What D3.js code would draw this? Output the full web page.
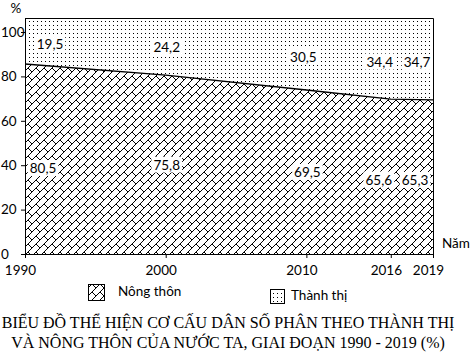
<!DOCTYPE html>
<html>
<head>
<meta charset="utf-8">
<script src="https://cdn.jsdelivr.net/npm/d3@7"></script>
<style>
  html, body { margin: 0; padding: 0; background: #fff; }
  svg { display: block; }
</style>
</head>
<body>
<svg id="chart" width="471" height="356"></svg>
<script>
// ---- data ----
const years = [1990, 2000, 2010, 2016, 2019];
const rural = [80.5, 75.8, 69.5, 65.6, 65.3];   // Nông thôn
const urban = [19.5, 24.2, 30.5, 34.4, 34.7];   // Thành thị
const yTicks = [0, 20, 40, 60, 80, 100];
const seriesNames = ["Nông thôn", "Thành thị"];
const titleLines = [
  "BIỂU ĐỒ THỂ HIỆN CƠ CẤU DÂN SỐ PHÂN THEO THÀNH THỊ",
  "VÀ NÔNG THÔN CỦA NƯỚC TA, GIAI ĐOẠN 1990 - 2019 (%)"
];

(function () {
const fontSans = "Lato, 'Open Sans', sans-serif";
const fontSerif = "'Liberation Serif', 'Times New Roman', serif";

const svg = d3.select("#chart");
const defs = svg.append("defs");

// diagonal brick pattern (8x8)
const brickBits = [
  "00000001",
  "00000010",
  "00000100",
  "00001000",
  "00011000",
  "00100100",
  "01000010",
  "10000001"
];
const brick = defs.append("pattern").attr("id", "brick")
  .attr("patternUnits", "userSpaceOnUse").attr("width", 8).attr("height", 8);
brick.append("rect").attr("width", 8).attr("height", 8).attr("fill", "#fff");
brickBits.forEach((row, r) => {
  row.split("").forEach((b, c) => {
    if (b === "1") brick.append("rect").attr("x", c).attr("y", r)
      .attr("width", 1).attr("height", 1).attr("fill", "#000");
  });
});

// dotted pattern
const dots = defs.append("pattern").attr("id", "dots")
  .attr("patternUnits", "userSpaceOnUse").attr("width", 4).attr("height", 4);
dots.append("rect").attr("width", 4).attr("height", 4).attr("fill", "#fff");
dots.append("rect").attr("x", 1).attr("y", 1).attr("width", 1).attr("height", 1).attr("fill", "#000");

// ---- scales ----
const pLeft = 25, pRight = 433, pTop = 18, pBottom = 254;
const x = d3.scaleLinear().domain([1990, 2019]).range([pLeft, pRight]);
const yData = d3.scaleLinear().domain([0, 100]).range([pBottom, pTop]);
const yAxisScale = d3.scaleLinear().domain([0, 100]).range([pBottom, 32]);

const table = years.map((yr, i) => ({ year: yr, rural: rural[i], urban: urban[i] }));
const stacked = d3.stack().keys(["rural", "urban"])(table);

const area = d3.area()
  .x(d => x(d.data.year))
  .y0(d => yData(d[0]))
  .y1(d => yData(d[1]));

svg.append("path").datum(stacked[0]).attr("d", area).attr("fill", "url(#brick)");
svg.append("path").datum(stacked[1]).attr("d", area).attr("fill", "url(#dots)");

// boundary line
svg.append("path").datum(stacked[0])
  .attr("d", d3.line().x(d => x(d.data.year)).y(d => yData(d[1])))
  .attr("fill", "none").attr("stroke", "#000").attr("stroke-width", 1.3);

// frame (top & right)
svg.append("path")
  .attr("d", `M${pLeft},${pTop + 0.5}H${pRight + 0.5}V${pBottom}`)
  .attr("fill", "none").attr("stroke", "#000").attr("stroke-width", 1);

// ---- axes ----
const yAxis = svg.append("g").attr("transform", `translate(${pLeft},0)`)
  .call(d3.axisLeft(yAxisScale).tickValues(yTicks).tickSize(4).tickSizeOuter(0));
yAxis.select(".domain").remove();
yAxis.append("line").attr("x1", 0.5).attr("x2", 0.5).attr("y1", pTop).attr("y2", pBottom)
  .attr("stroke", "#000");
yAxis.selectAll(".tick text")
  .attr("text-anchor", "start").attr("x", -24)
  .attr("font-family", fontSans).attr("font-size", 13.5).attr("fill", "#000");

const xAxis = svg.append("g").attr("transform", `translate(0,${pBottom})`)
  .call(d3.axisBottom(x).tickValues(years).tickFormat(d3.format("d")).tickSize(4).tickSizeOuter(0).tickPadding(7));
xAxis.select(".domain").attr("stroke", "#000");
xAxis.selectAll(".tick text")
  .attr("dx", -5)
  .attr("font-family", fontSans).attr("font-size", 13.5).attr("fill", "#000");

svg.append("text").attr("x", 16).attr("y", 13).attr("text-anchor", "middle")
  .attr("font-family", fontSans).attr("font-size", 13.5).text("%");
svg.append("text").attr("x", 442).attr("y", 248)
  .attr("font-family", fontSans).attr("font-size", 13.5).text("Năm");

// ---- data labels ----
const urbanDx = [25, 1, -3, -11, -16];
const urbanDy = [3, 0, 3, 3, 3];
const ruralDx = [18, 1, 1, -12, -18];
const ruralDy = [9, 0, 0, 3, 3];
const fmt = v => d3.format(".1f")(v).replace(".", ",");

function addLabel(cx, cy, txt) {
  const g = svg.append("g");
  const t = g.append("text").attr("x", cx).attr("y", cy)
    .attr("text-anchor", "middle").attr("dominant-baseline", "central")
    .attr("font-family", fontSans).attr("font-size", 13.5).attr("fill", "#000")
    .text(txt);
  const bb = t.node().getBBox();
  g.insert("rect", "text").attr("x", bb.x - 2).attr("y", bb.y)
    .attr("width", bb.width + 4).attr("height", bb.height).attr("fill", "#fff");
}
stacked[1].forEach((d, i) => {
  addLabel(x(d.data.year) + urbanDx[i], (yData(d[0]) + yData(d[1])) / 2 + urbanDy[i], fmt(urban[i]));
});
stacked[0].forEach((d, i) => {
  addLabel(x(d.data.year) + ruralDx[i], (yData(d[0]) + yData(d[1])) / 2 + ruralDy[i], fmt(rural[i]));
});

// ---- legend ----
const legendItems = [
  { name: seriesNames[0], fill: "url(#brick)", sx: 88, sy: 284, sw: 16, sh: 16, tx: 118, ty: 296 },
  { name: seriesNames[1], fill: "url(#dots)", sx: 270, sy: 289, sw: 14, sh: 14, tx: 291, ty: 300 }
];
legendItems.forEach(it => {
  svg.append("rect").attr("x", it.sx + 0.5).attr("y", it.sy + 0.5).attr("width", it.sw).attr("height", it.sh)
    .attr("fill", it.fill).attr("stroke", "#000").attr("stroke-width", 1);
  svg.append("text").attr("x", it.tx).attr("y", it.ty)
    .attr("font-family", fontSans).attr("font-size", 13.5).text(it.name);
});

// ---- title ----
svg.selectAll("text.title").data(titleLines).enter().append("text")
  .attr("class", "title")
  .attr("x", 228).attr("y", (d, i) => 328 + i * 20)
  .attr("text-anchor", "middle")
  .attr("font-family", fontSerif).attr("font-size", 16).attr("fill", "#000")
  .text(d => d);
})();
</script>
</body>
</html>
